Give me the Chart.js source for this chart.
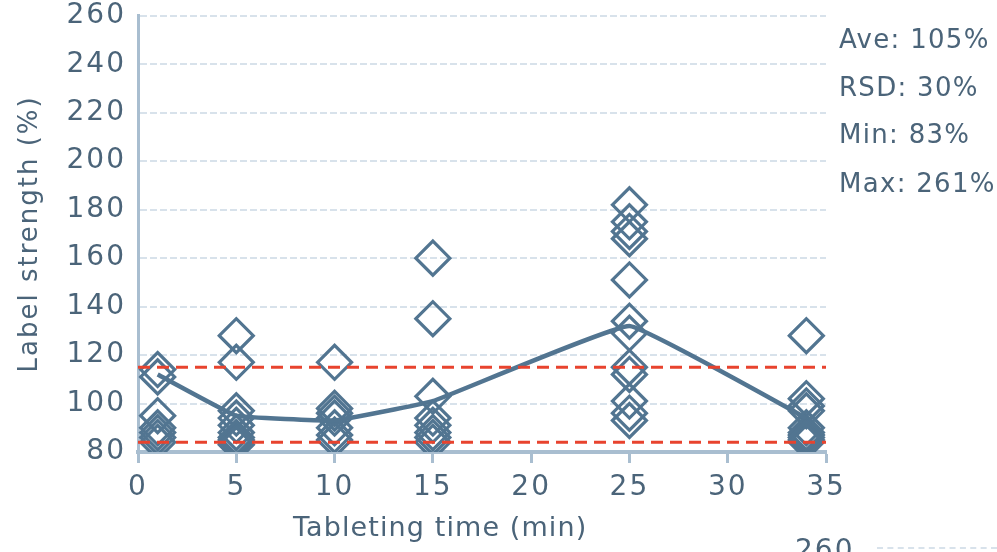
<!DOCTYPE html>
<html>

<head>
    <title>Label strength vs tableting time</title>
    <script src="https://cdn.jsdelivr.net/npm/chart.js"></script>
    <style>
        body {
            margin: 0;
            width: 997px;
            height: 552px;
            overflow: hidden;
            background-color: #fff;
            font-family: "DejaVu Sans", sans-serif;
            color: #4b6479;
            position: relative;
        }

        #wrap {
            position: absolute;
            left: 0;
            top: -13px;
            width: 997px;
            height: 565px;
        }

        .stat {
            position: absolute;
            left: 839px;
            font-size: 26px;
            letter-spacing: 1.3px;
            white-space: nowrap;
        }

        #xTitle {
            position: absolute;
            left: 293px;
            top: 511px;
            font-size: 27px;
            letter-spacing: 1.1px;
            white-space: nowrap;
        }

        #nextTick {
            position: absolute;
            left: 795px;
            top: 533px;
            font-size: 28px;
            letter-spacing: 2px;
        }

        #nextGrid {
            position: absolute;
            left: 877px;
            top: 547px;
            width: 120px;
            border-top: 2px dashed #d8e2eb;
        }
    </style>
</head>

<body>
    <div id="wrap">
        <canvas id="strengthChart" width="997" height="565"></canvas>
    </div>
    <div class="stat" style="top: 24px;">Ave: 105%</div>
    <div class="stat" style="top: 72px;">RSD: 30%</div>
    <div class="stat" style="top: 119px;">Min: 83%</div>
    <div class="stat" style="top: 168px;">Max: 261%</div>
    <div id="xTitle">Tableting time (min)</div>
    <div id="nextTick">260</div>
    <div id="nextGrid"></div>

    <script>
        // sampling times (min)
        const times = [1, 5, 10, 15, 25, 34];

        // individual label strength readings (%) at each time
        const strengthAt1 = [114, 111, 95, 90, 88, 86, 84];
        const strengthAt5 = [128, 117, 97, 94, 91, 88, 86, 85, 84, 83];
        const strengthAt10 = [117, 98, 96, 94, 90, 87, 85];
        const strengthAt15 = [160, 135, 103, 94, 91, 88, 86, 84];
        const strengthAt25 = [182, 175, 171, 168, 151, 134, 129, 115, 112, 101, 96, 93];
        const strengthAt34 = [128, 102, 99, 97, 90, 88, 87, 86, 85, 84];

        // the solid trend line
        const trendValues = [112, 95, 93, 101, 132, 94];

        // red dashed limits
        const upperLimit = 115;
        const lowerLimit = 84;

        const yTicks = [80, 100, 120, 140, 160, 180, 200, 220, 240, 260];
        const xTicks = [0, 5, 10, 15, 20, 25, 30, 35];

        const markColor = '#527591';
        const axisColor = '#a9bed0';
        const gridColor = '#d8e2eb';
        const textColor = '#4b6479';
        const limitColor = '#e8432e';

        const allReadings = [strengthAt1, strengthAt5, strengthAt10, strengthAt15, strengthAt25, strengthAt34];
        const scatterPoints = [];
        allReadings.forEach((list, i) => {
            list.forEach(v => scatterPoints.push({ x: times[i], y: v }));
        });
        const trendPoints = times.map((t, i) => ({ x: t, y: trendValues[i] }));

        function limitLine(v) {
            return {
                type: 'line',
                data: [{ x: 0, y: v }, { x: 35, y: v }],
                borderColor: limitColor,
                borderWidth: 3,
                borderDash: [12, 7],
                pointRadius: 0,
                fill: false,
            };
        }

        // wider letter spacing, the original font is a wide geometric one
        const spacingPlugin = {
            id: 'spacing',
            beforeDraw(chart) {
                chart.ctx.letterSpacing = '2px';
            }
        };

        const ctx = document.getElementById('strengthChart').getContext('2d');
        const strengthChart = new Chart(ctx, {
            type: 'scatter',
            data: {
                datasets: [
                    limitLine(upperLimit),
                    limitLine(lowerLimit),
                    {
                        type: 'line',
                        data: trendPoints,
                        borderColor: markColor,
                        borderWidth: 4.5,
                        tension: 0.08,
                        pointRadius: 0,
                        fill: false,
                    },
                    {
                        data: scatterPoints,
                        pointStyle: 'rectRot',
                        pointRadius: 17,
                        borderColor: markColor,
                        borderWidth: 3.2,
                        backgroundColor: 'rgba(0,0,0,0)',
                    }
                ]
            },
            plugins: [spacingPlugin],
            options: {
                responsive: false,
                animation: false,
                layout: {
                    padding: { left: 0, right: 171, top: 0, bottom: 0 }
                },
                plugins: {
                    legend: { display: false },
                    tooltip: { enabled: false }
                },
                scales: {
                    x: {
                        type: 'linear',
                        min: 0,
                        max: 35,
                        afterFit: (scale) => { scale.height = 100; },
                        afterBuildTicks: (scale) => { scale.ticks = xTicks.map(v => ({ value: v })); },
                        ticks: {
                            color: textColor,
                            font: { family: 'DejaVu Sans', size: 28 },
                            padding: 8,
                            maxRotation: 0
                        },
                        grid: {
                            drawOnChartArea: false,
                            drawTicks: true,
                            tickLength: 11,
                            tickWidth: 3,
                            tickColor: axisColor
                        },
                        border: { color: axisColor, width: 4 }
                    },
                    y: {
                        min: 80,
                        max: 260,
                        afterFit: (scale) => { scale.width = 138; },
                        afterBuildTicks: (scale) => { scale.ticks = yTicks.map(v => ({ value: v })); },
                        ticks: {
                            color: textColor,
                            font: { family: 'DejaVu Sans', size: 28 },
                            padding: 12
                        },
                        grid: {
                            color: gridColor,
                            lineWidth: 2,
                            drawTicks: false
                        },
                        border: { color: axisColor, width: 3, dash: [7, 3] },
                        title: {
                            display: true,
                            text: 'Label strength (%)',
                            color: textColor,
                            font: { family: 'DejaVu Sans', size: 26 },
                            padding: { top: 15, bottom: 0 }
                        }
                    }
                }
            }
        });
    </script>
</body>

</html>
